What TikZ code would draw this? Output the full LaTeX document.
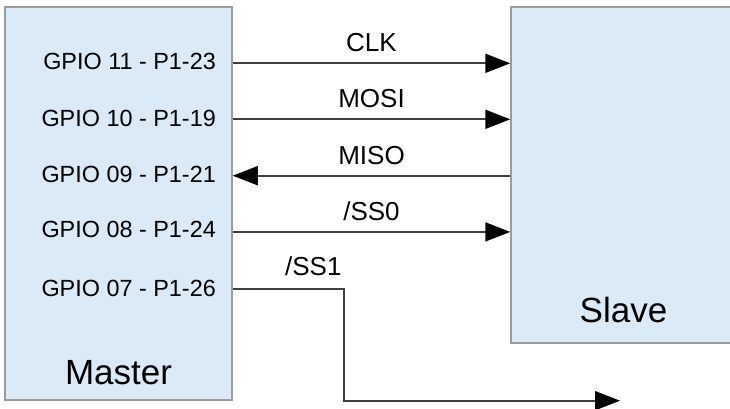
\documentclass[tikz,border=0pt]{standalone}
\usepackage{fontspec}
\setmainfont{Liberation Sans}
\usetikzlibrary{arrows.meta}
\definecolor{boxfill}{HTML}{DAEAF6}
\definecolor{boxline}{HTML}{9C9C9C}
\definecolor{wirecol}{HTML}{404040}
\begin{document}
\begin{tikzpicture}[x=1pt,y=-1pt,
  box/.style={rectangle, draw=boxline, line width=1.5pt, fill=boxfill, inner sep=0pt},
  wire/.style={draw=wirecol, line width=1.8pt},
  tipr/.style={-{Triangle[length=25pt,width=19pt,color=black]}},
  gpio/.style={anchor=base east, font=\fontsize{23.4}{28}\selectfont, inner sep=0pt},
  sig/.style={anchor=base, font=\fontsize{26}{31}\selectfont, inner sep=0pt},
  titletext/.style={anchor=base, font=\fontsize{35}{42}\selectfont, inner sep=0pt}]
\clip (0,0) rectangle (730,409);
\fill[white] (0,0) rectangle (730,409);
% boxes
\node[box, minimum width=227pt, minimum height=393pt] (master) at (118.5,203.5) {};
\node[box, minimum width=225pt, minimum height=336pt] (slave) at (623.5,175) {};
\node[titletext] (mtitle) at (118.5,384) {Master};
\node[titletext] (stitle) at (623.5,322) {Slave};
% pin labels
\node[gpio] (g11) at (216,69.5) {GPIO 11 - P1-23};
\node[gpio] (g10) at (216,126) {GPIO 10 - P1-19};
\node[gpio] (g09) at (216,182.7) {GPIO 09 - P1-21};
\node[gpio] (g08) at (216,237.5) {GPIO 08 - P1-24};
\node[gpio] (g07) at (216,296.5) {GPIO 07 - P1-26};
% wire levels
\coordinate (yclk) at (0,63.3);
\coordinate (ymosi) at (0,119.3);
\coordinate (ymiso) at (0,175.7);
\coordinate (yss0) at (0,231.9);
\coordinate (yss1) at (0,288.8);
\coordinate (bend) at (344,288.8);
\coordinate (ss1end) at (620,400.7);
% connectors
\draw[wire, tipr] (master.east |- yclk) -- node[sig, midway, yshift=11.7pt] (lclk) {CLK} (slave.west |- yclk);
\draw[wire, tipr] (master.east |- ymosi) -- node[sig, midway, yshift=11.7pt] (lmosi) {MOSI} (slave.west |- ymosi);
\draw[wire, tipr] (slave.west |- ymiso) -- node[sig, midway, yshift=11.7pt] (lmiso) {MISO} (master.east |- ymiso);
\draw[wire, tipr] (master.east |- yss0) -- node[sig, midway, yshift=11.7pt] (lss0) {/SS0} (slave.west |- yss0);
\draw[wire, tipr] (master.east |- yss1) -- (bend) |- (ss1end);
\node[sig, anchor=base east] (lss1) at ([xshift=-2.3pt,yshift=13pt]bend) {/SS1};
\end{tikzpicture}
\end{document}
